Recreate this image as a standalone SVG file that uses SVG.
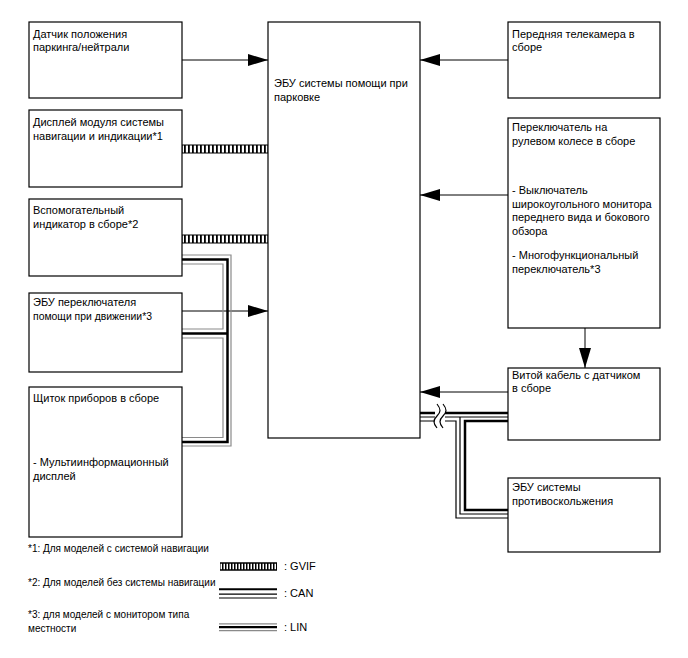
<svg xmlns="http://www.w3.org/2000/svg" width="688" height="658" viewBox="0 0 688 658">
<defs>
<style>
.box{fill:#fff;stroke:#000;stroke-width:1.2}
text{font-family:"Liberation Sans",Arial,sans-serif;font-size:11px;fill:#000}
.note{font-size:10px}
.arr{fill:none;stroke:#000;stroke-width:1;marker-end:url(#ah)}
.g{fill:none;stroke:#8a8a8a;stroke-width:1.2}
.bk{fill:none;stroke:#000;stroke-width:2.5}
.th{fill:none;stroke:#000;stroke-width:1.2}
.gv{fill:url(#gv);stroke:#000;stroke-width:1}
</style>
<marker id="ah" viewBox="0 0 20 12" refX="20" refY="6" markerWidth="20" markerHeight="12" markerUnits="userSpaceOnUse" orient="auto"><path d="M0,0L20,6L0,12z" fill="#000"/></marker>
<pattern id="gv" width="4" height="10" patternUnits="userSpaceOnUse"><rect width="4" height="10" fill="#fff"/><rect width="1.8" height="10" fill="#000"/></pattern>
<pattern id="gvl" width="3" height="10" patternUnits="userSpaceOnUse"><rect width="3" height="10" fill="#fff"/><rect width="1.5" height="10" fill="#000"/></pattern>
</defs>
<rect width="688" height="658" fill="#fff"/>

<g id="connectors">
  <line class="arr" x1="182" y1="60" x2="268" y2="60"/>
  <line class="arr" x1="508" y1="60" x2="420" y2="60"/>
  <line class="arr" x1="508" y1="195" x2="420" y2="195"/>
  <line class="arr" x1="182" y1="311" x2="268" y2="311"/>
  <line class="arr" x1="585" y1="328" x2="585" y2="368"/>
  <line class="arr" x1="508" y1="392" x2="420" y2="392"/>
  <rect class="gv" x="182" y="145" width="86" height="8"/>
  <rect class="gv" x="182" y="235" width="86" height="8"/>
  <g id="lin-bus">
    <path class="g" d="M182,255H231V446H182"/>
    <path class="bk" d="M182,259.5H227.5V442H182M182,333.5H227.5"/>
    <path class="g" d="M182,264H223V329H182M182,338H223V437.5H182"/>
  </g>
  <g id="can-bus">
    <path class="bk" d="M420,413H508"/>
    <path class="th" d="M420,417H508M460,417V514H508"/>
    <path class="th" d="M420,421H456V518H508"/>
    <path class="bk" d="M508,421H465V510H508"/>
    <rect x="435" y="405" width="10" height="22" fill="#fff"/>
    <path class="th" d="M437,404C441,409 441,412 437,416C433,420 433,423 437,428M443,404C447,409 447,412 443,416C439,420 439,423 443,428"/>
  </g>
</g>

<g id="n-park"><rect class="box" x="29" y="22" width="153" height="76"/><text x="33" y="37.5">Датчик положения</text><text x="33" y="51">паркинга/нейтрали</text></g>
<g id="n-disp"><rect class="box" x="29" y="110" width="153" height="77"/><text x="33" y="126">Дисплей модуля системы</text><text x="33" y="139.5">навигации и индикации*1</text></g>
<g id="n-aux"><rect class="box" x="29" y="199" width="153" height="77"/><text x="33" y="214">Вспомогательный</text><text x="33" y="227.5">индикатор в сборе*2</text></g>
<g id="n-drv"><rect class="box" x="29" y="293" width="153" height="79"/><text x="33" y="306">ЭБУ переключателя</text><text x="33" y="319.5" style="font-size:10.4px">помощи при движении*3</text></g>
<g id="n-meter"><rect class="box" x="29" y="387" width="153" height="150"/><text x="33" y="402">Щиток приборов в сборе</text><text x="33" y="466">- Мультиинформационный</text><text x="33" y="479.5">дисплей</text></g>

<g id="n-ecu"><rect class="box" x="268" y="22" width="152" height="416"/><text x="274" y="87">ЭБУ системы помощи при</text><text x="274" y="100.5">парковке</text></g>

<g id="n-cam"><rect class="box" x="508" y="22" width="152" height="76"/><text x="512" y="37.5">Передняя телекамера в</text><text x="512" y="51">сборе</text></g>
<g id="n-sw"><rect class="box" x="508" y="118" width="152" height="210"/><text x="512" y="131">Переключатель на</text><text x="512" y="144.5">рулевом колесе в сборе</text><text x="512" y="194">- Выключатель</text><text x="512" y="207.5">широкоугольного монитора</text><text x="512" y="221">переднего вида и бокового</text><text x="512" y="234.5">обзора</text><text x="512" y="259">- Многофункциональный</text><text x="512" y="272.5">переключатель*3</text></g>
<g id="n-spiral"><rect class="box" x="508" y="368" width="152" height="72"/><text x="512" y="378.5">Витой кабель с датчиком</text><text x="512" y="392">в сборе</text></g>
<g id="n-abs"><rect class="box" x="508" y="478" width="152" height="74"/><text x="512" y="491">ЭБУ системы</text><text x="512" y="504.5">противоскольжения</text></g>

<g id="notes">
  <text class="note" x="28" y="552">*1: Для моделей с системой навигации</text>
  <text class="note" x="28" y="586">*2: Для моделей без системы навигации</text>
  <text class="note" x="28" y="618">*3: для моделей с монитором типа</text>
  <text class="note" x="28" y="632">местности</text>
</g>
<g id="legend">
  <rect x="220" y="563" width="57" height="7" fill="url(#gvl)"/>
  <path d="M220,563H277M220,570H277" stroke="#000" stroke-width="1.5"/>
  <text x="284" y="570">: GVIF</text>
  <path d="M219,589.3H277" stroke="#000" stroke-width="2"/>
  <path d="M219,594.2H277M219,598H277" stroke="#000" stroke-width="1.2"/>
  <text x="284" y="597">: CAN</text>
  <path d="M219,623.8H277M219,630.7H277" stroke="#8a8a8a" stroke-width="1.3"/>
  <path d="M219,627.2H277" stroke="#000" stroke-width="2.2"/>
  <text x="284" y="631">: LIN</text>
</g>
</svg>
